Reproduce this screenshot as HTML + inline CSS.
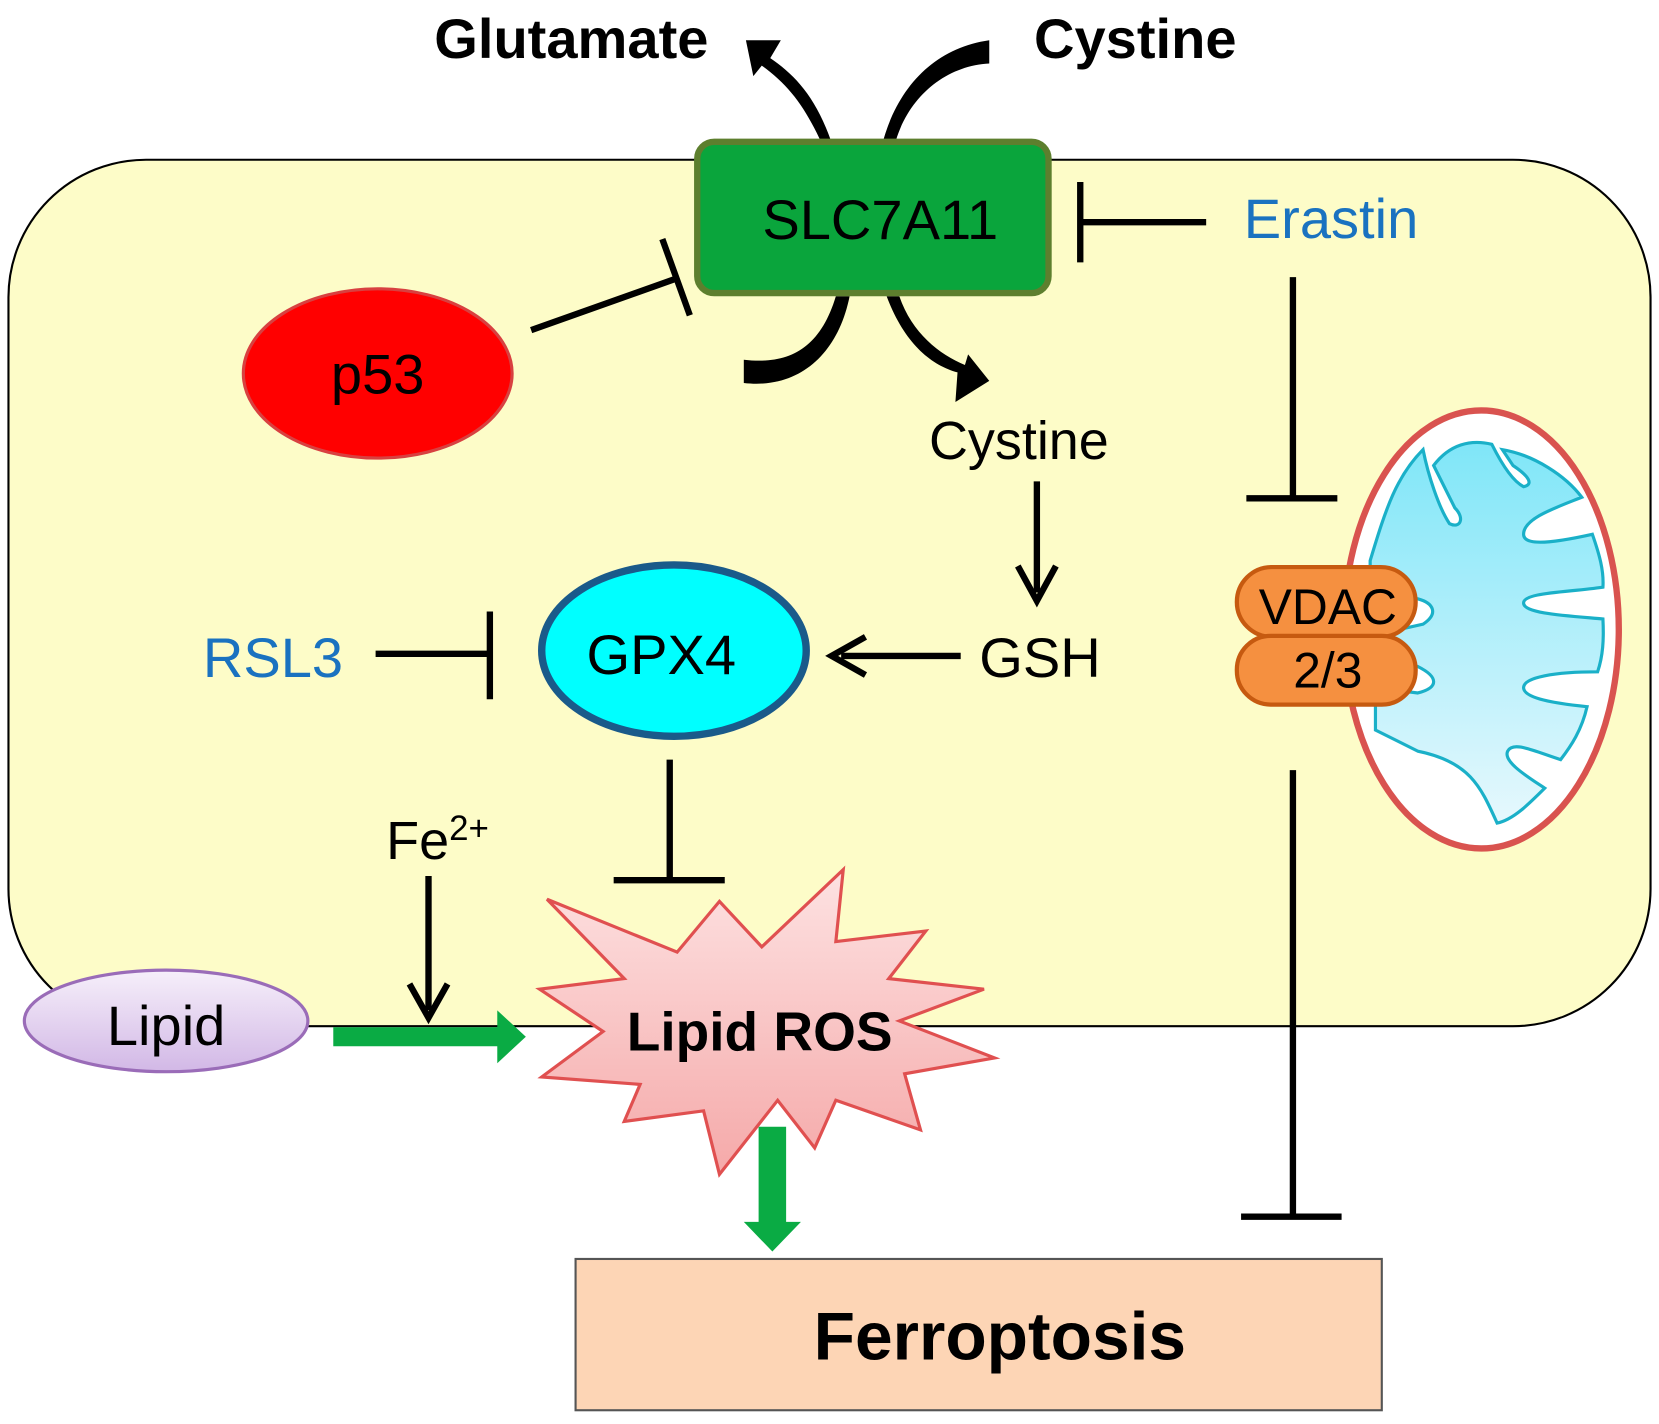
<!DOCTYPE html>
<html><head><meta charset="utf-8"><style>html,body{margin:0;padding:0;background:#fff}svg{display:block}</style></head>
<body>
<svg width="1659" height="1424" viewBox="0 0 1568 1346" preserveAspectRatio="none" xmlns="http://www.w3.org/2000/svg" font-family="Liberation Sans, sans-serif">
<defs>
<linearGradient id="lg" x1="0" y1="0" x2="0" y2="1"><stop offset="0" stop-color="#f6effa"/><stop offset="1" stop-color="#d2b8e6"/></linearGradient>
<linearGradient id="mg" x1="0" y1="0" x2="0" y2="1"><stop offset="0" stop-color="#7fe6f8"/><stop offset="1" stop-color="#e6f8fd"/></linearGradient>
<linearGradient id="sg" x1="0" y1="0" x2="0" y2="1"><stop offset="0" stop-color="#fde2e2"/><stop offset="1" stop-color="#f5a9a9"/></linearGradient>
</defs>
<rect x="8" y="151" width="1552" height="819" rx="130" fill="#fdfcc8" stroke="#000" stroke-width="2"/>
<path d="M785 132 C770 90 750 70 728 55 L738 38 L705 38 L712 72 L720 62 C745 80 760 100 775 132 Z" fill="#000"/>
<path d="M835 132 C850 80 885 45 935 38 L935 60 C895 62 860 90 847 132 Z" fill="#000"/>
<path d="M790 280 C775 330 745 345 703 340 L703 362 C755 368 792 335 803 280 Z" fill="#000"/>
<path d="M838 280 C855 325 880 345 905 352 L903 380 L935 360 L915 335 L912 345 C888 335 862 315 850 280 Z" fill="#000"/>
<rect x="659" y="134" width="332" height="143" rx="16" fill="#0aa53c" stroke="#5d7f2e" stroke-width="6"/>
<text x="832" y="226" font-size="53" text-anchor="middle">SLC7A11</text>
<text x="540" y="55" font-size="53" font-weight="bold" text-anchor="middle">Glutamate</text>
<text x="1073" y="55" font-size="53" font-weight="bold" text-anchor="middle">Cystine</text>
<g stroke="#000" stroke-width="6" fill="none">
<line x1="1140" y1="210" x2="1020" y2="210"/><line x1="1021" y1="172" x2="1021" y2="248"/>
<line x1="502" y1="312" x2="640" y2="263"/><line x1="626" y1="226" x2="652" y2="298"/>
<line x1="980" y1="455" x2="980" y2="560"/>
<line x1="908" y1="620" x2="795" y2="620"/>
<line x1="355" y1="618" x2="462" y2="618"/><line x1="463" y1="578" x2="463" y2="661"/>
<line x1="633" y1="718" x2="633" y2="832"/><line x1="580" y1="832" x2="685" y2="832"/>
<line x1="1222" y1="262" x2="1222" y2="470"/><line x1="1178" y1="471" x2="1264" y2="471"/>
<line x1="1222" y1="728" x2="1222" y2="1150"/><line x1="1173" y1="1150" x2="1268" y2="1150"/>
<line x1="405" y1="828" x2="405" y2="955"/>
</g>
<path d="M962 535 L980 568 L998 535" fill="none" stroke="#000" stroke-width="6"/>
<path d="M818 602 L786 620 L818 638" fill="none" stroke="#000" stroke-width="6"/>
<path d="M387 930 L405 962 L423 930" fill="none" stroke="#000" stroke-width="6"/>
<text x="1258" y="225" font-size="53" fill="#1a72c0" text-anchor="middle">Erastin</text>
<ellipse cx="357" cy="353" rx="127" ry="80" fill="#ff0000" stroke="#d84040" stroke-width="3"/>
<text x="357" y="372" font-size="53" text-anchor="middle">p53</text>
<text x="963" y="434" font-size="51" text-anchor="middle">Cystine</text>
<text x="983" y="640" font-size="53" text-anchor="middle">GSH</text>
<ellipse cx="637" cy="615" rx="125" ry="81" fill="#00ffff" stroke="#1a5a8a" stroke-width="7"/>
<text x="625" y="637" font-size="53" text-anchor="middle">GPX4</text>
<text x="258" y="640" font-size="53" fill="#1a72c0" text-anchor="middle">RSL3</text>
<ellipse cx="1400" cy="595" rx="130" ry="207" fill="#fff" stroke="#d9534f" stroke-width="6"/>
<path d="M1295 530 C1310 480 1320 450 1345 425 C1350 450 1360 480 1370 495 C1380 500 1385 490 1375 480 L1355 440 C1370 420 1390 415 1410 420 C1420 440 1430 455 1440 460 C1450 458 1445 450 1430 440 L1420 425 C1450 430 1480 450 1495 470 C1470 480 1440 490 1440 505 C1440 515 1460 515 1505 505 C1512 525 1516 540 1515 555 C1480 560 1440 560 1440 570 C1440 580 1480 582 1515 585 C1516 605 1515 620 1510 635 C1470 635 1440 640 1440 650 C1440 660 1470 665 1500 668 C1495 690 1485 705 1475 718 C1450 710 1430 700 1425 710 C1420 720 1445 735 1460 745 C1445 760 1430 775 1415 778 C1400 745 1390 720 1340 710 L1300 690 L1300 650 L1340 655 C1360 650 1360 640 1340 630 L1300 620 L1300 600 L1345 590 C1360 580 1355 570 1340 566 L1295 560 Z" fill="url(#mg)" stroke="#1ab0c8" stroke-width="3"/>
<rect x="1169" y="536" width="169" height="66" rx="33" fill="#f59040" stroke="#c65a10" stroke-width="4"/>
<rect x="1169" y="601" width="169" height="65" rx="32" fill="#f59040" stroke="#c65a10" stroke-width="4"/>
<text x="1255" y="590" font-size="47" text-anchor="middle">VDAC</text>
<text x="1255" y="650" font-size="47" text-anchor="middle">2/3</text>
<ellipse cx="157" cy="965" rx="134" ry="48" fill="url(#lg)" stroke="#9a6cb8" stroke-width="3"/>
<text x="157" y="988" font-size="53" text-anchor="middle">Lipid</text>
<text x="365" y="812" font-size="51">Fe<tspan font-size="33" dy="-18">2+</tspan></text>
<path d="M315 971 L470 971 L470 955 L497 980 L470 1005 L470 989 L315 989 Z" fill="#0aab44"/>
<path d="M797 822 L790 890 L875 880 L840 925 L930 935 L850 965 L940 1000 L855 1015 L870 1068 L790 1040 L770 1085 L735 1040 L680 1110 L665 1050 L590 1060 L605 1025 L512 1018 L570 975 L510 935 L590 925 L517 850 L640 900 L680 852 L720 895 Z" fill="url(#sg)" stroke="#e05050" stroke-width="3"/>
<text x="718" y="993" font-size="52" font-weight="bold" text-anchor="middle">Lipid ROS</text>
<path d="M717 1065 L743 1065 L743 1155 L757 1155 L730 1183 L703 1155 L717 1155 Z" fill="#0aab44"/>
<rect x="544" y="1190" width="762" height="143" fill="#fdd5b5" stroke="#555" stroke-width="2"/>
<text x="945" y="1285" font-size="64" font-weight="bold" text-anchor="middle">Ferroptosis</text>
</svg>
</body></html>
